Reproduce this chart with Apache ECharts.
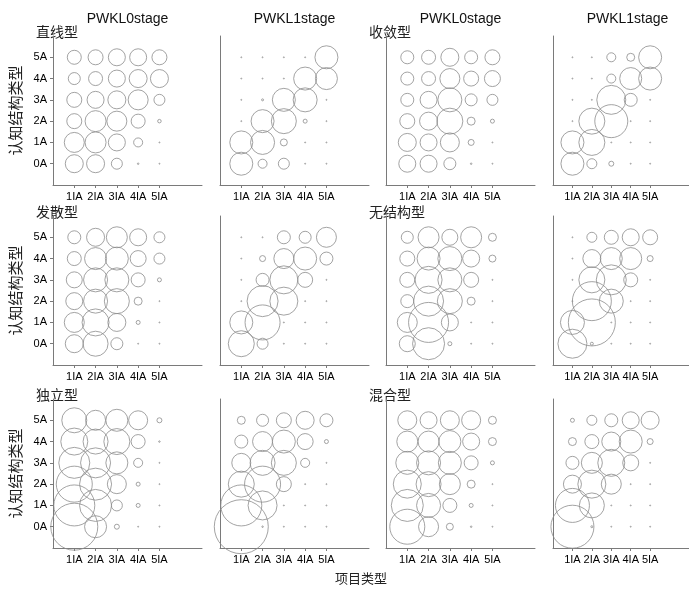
<!DOCTYPE html>
<html>
<head>
<meta charset="utf-8">
<script src="https://cdn.jsdelivr.net/npm/echarts@6/dist/echarts.min.js"></script>
<style>
  html, body { margin: 0; padding: 0; background: #fff; }
  #chart { width: 689px; height: 592px; }
</style>
</head>
<body>
<div id="chart"></div>
<script>
// categories
const xLabels = ["1IA", "2IA", "3IA", "4IA", "5IA"];
const yLabels = ["0A", "1A", "2A", "3A", "4A", "5A"];
const stageTitles = ["PWKL0stage", "PWKL1stage", "PWKL0stage", "PWKL1stage"];
const typeNames = ["直线型", "收敛型", "发散型", "无结构型", "独立型", "混合型"];

// bubble magnitudes, rows listed top (5A) to bottom (0A), columns 1IA..5IA
const zhixian0 = [
  [14, 15, 17, 17, 15],
  [12, 14, 17, 18, 18],
  [15, 17, 18, 20, 11],
  [15, 21, 20, 14, 3.5],
  [20, 21, 17, 9, 1],
  [18, 18, 11, 1.5, 1]
];
const zhixian1 = [
  [1, 1, 1, 1, 23],
  [1, 1, 1, 23, 22],
  [1, 2, 23, 24, 1],
  [1, 23, 25, 4, 1],
  [23, 24, 7, 1, 1],
  [23, 9, 11, 1, 1]
];
const shoulian0 = [
  [13, 14, 18, 13, 15],
  [13, 14, 20, 15, 16],
  [13, 17, 24, 12, 11],
  [15, 18, 26, 8, 4],
  [18, 17, 19, 6, 1],
  [17, 17, 12, 1.5, 1]
];
const shoulian1 = [
  [1, 1, 9, 8, 23],
  [1, 1, 9, 22, 23],
  [1, 1, 29, 13, 1],
  [1, 26, 33, 1, 1],
  [23, 26, 1, 1, 1],
  [23, 10, 5, 1, 1]
];
const fasan0 = [
  [13, 18, 21, 17, 11],
  [14, 22, 23, 16, 11],
  [16, 24, 24, 14, 4],
  [17, 24, 25, 8, 1],
  [20, 27, 18, 4, 1],
  [18, 25, 12, 1, 1]
];
const fasan1 = [
  [1, 1, 13, 12, 20],
  [1, 6, 20, 23, 13],
  [1, 13, 28, 15, 1],
  [1, 31, 28, 1, 1],
  [23, 35, 1, 1, 1],
  [26, 11, 1, 1, 1]
];
const wujiegou0 = [
  [12, 21, 16, 21, 8],
  [15, 23, 24, 17, 7],
  [15, 27, 24, 15, 1],
  [13, 30, 25, 8, 1],
  [20, 40, 17, 1, 1],
  [16, 32, 4, 1, 1]
];
const wujiegou1 = [
  [1, 10, 14, 17, 15],
  [1, 18, 22, 22, 6],
  [1, 26, 30, 14, 1],
  [1, 39, 24, 1, 1],
  [24, 47, 1, 1, 1],
  [29, 3, 1, 1, 1]
];
const duli0 = [
  [25, 20, 22, 19, 5],
  [27, 25, 26, 14, 1.5],
  [31, 30, 22, 9, 1],
  [36, 32, 19, 4, 1],
  [41, 32, 11, 4, 1],
  [47, 22, 5, 1, 1]
];
const duli1 = [
  [8, 12, 15, 18, 13],
  [13, 20, 23, 16, 4],
  [19, 25, 25, 9, 1],
  [26, 36, 15, 1, 1],
  [41, 29, 1, 1, 1],
  [54, 1.5, 1, 1, 1]
];
const hunhe0 = [
  [19, 17, 19, 19, 8],
  [21, 21, 22, 17, 8],
  [23, 24, 23, 14, 4],
  [28, 25, 21, 8, 1],
  [32, 24, 14, 4, 1],
  [35, 20, 7, 1.5, 1]
];
const hunhe1 = [
  [4, 10, 13, 17, 18],
  [8, 14, 19, 23, 6],
  [13, 21, 27, 16, 1],
  [18, 28, 20, 1, 1],
  [34, 25, 1, 1, 1],
  [43, 2, 1, 1, 1]
];

// panels in reading order: 3 rows x 4 columns
const panels = [
  zhixian0, zhixian1, shoulian0, shoulian1,
  fasan0, fasan1, wujiegou0, wujiegou1,
  duli0, duli1, hunhe0, hunhe1
];

const colLeft = [53, 220, 386, 553];
const rowTop = [36, 216, 399];
const W = 149, H = 149;
const latin = "Liberation Sans, Arial, sans-serif";
const cjk = "Noto Sans CJK SC, sans-serif";

const chart = echarts.init(document.getElementById("chart"));

const grids = [], xAxes = [], yAxes = [], series = [], graphics = [];

panels.forEach((m, i) => {
  const row = Math.floor(i / 4), col = i % 4;
  grids.push({ left: colLeft[col], top: rowTop[row], width: W, height: H });

  xAxes.push({
    gridIndex: i, type: "value", min: 0, max: 7,
    splitLine: { show: false },
    axisLine: { onZero: false, lineStyle: { color: "#7a7a7a" } },
    axisTick: { customValues: [1, 2, 3, 4, 5], length: 3, lineStyle: { color: "#7a7a7a" } },
    axisLabel: {
      customValues: [1, 2, 3, 4, 5],
      formatter: v => xLabels[v - 1],
      color: "#000", fontSize: 11, fontFamily: latin, margin: 6
    }
  });

  yAxes.push({
    gridIndex: i, type: "value", min: -1, max: 6,
    name: col === 0 ? "认知结构类型" : "",
    nameLocation: "middle", nameGap: 30,
    nameTextStyle: { fontFamily: cjk, fontSize: 15, color: "#222" },
    splitLine: { show: false },
    axisLine: { show: true, onZero: false, lineStyle: { color: "#7a7a7a" } },
    axisTick: { show: col === 0, customValues: [0, 1, 2, 3, 4, 5], length: 3, lineStyle: { color: "#7a7a7a" } },
    axisLabel: {
      show: col === 0,
      customValues: [0, 1, 2, 3, 4, 5],
      formatter: v => yLabels[v],
      color: "#000", fontSize: 11, fontFamily: latin, margin: 6
    }
  });

  const data = [];
  m.forEach((r, ri) => {
    const yv = 5 - ri;
    r.forEach((v, ci) => data.push([ci + 1, yv, v]));
  });

  series.push({
    type: "scatter", xAxisIndex: i, yAxisIndex: i,
    data: data,
    symbol: "circle",
    symbolSize: val => val[2],
    itemStyle: { color: "rgba(0,0,0,0)", borderColor: "#8c8c8c", borderWidth: 1 },
    silent: true
  });
});

// stage titles over top row
stageTitles.forEach((t, c) => {
  graphics.push({
    type: "text", x: colLeft[c] + W / 2, y: 19,
    style: { text: t, fontFamily: latin, fontSize: 14, fill: "#111", align: "center", verticalAlign: "middle" }
  });
});

// type labels at top-left of columns 1 and 3
typeNames.forEach((t, k) => {
  const row = Math.floor(k / 2), col = (k % 2) * 2;
  graphics.push({
    type: "text", x: colLeft[col] - 17, y: rowTop[row] - 4,
    style: { text: t, fontFamily: cjk, fontSize: 14, fill: "#222", align: "left", verticalAlign: "middle" }
  });
});

graphics.push({
  type: "text", x: 361, y: 578,
  style: { text: "项目类型", fontFamily: cjk, fontSize: 13, fill: "#222", align: "center", verticalAlign: "middle" }
});

chart.setOption({
  animation: false,
  backgroundColor: "#fff",
  grid: grids,
  xAxis: xAxes,
  yAxis: yAxes,
  series: series,
  graphic: graphics
});
</script>
</body>
</html>
